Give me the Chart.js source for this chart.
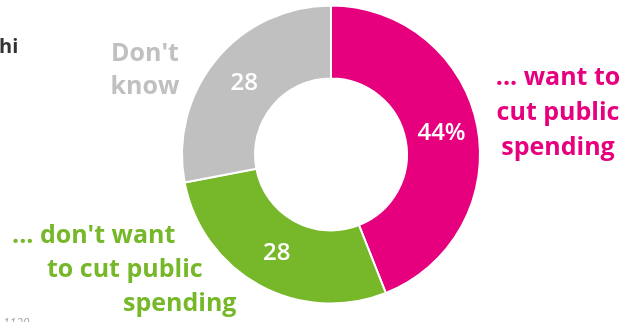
<!DOCTYPE html>
<html>
<head>
<meta charset="utf-8">
<script src="https://cdn.jsdelivr.net/npm/chart.js@4/dist/chart.umd.min.js"></script>
<style>
  html, body { margin: 0; padding: 0; background: #fff; overflow: hidden; }
</style>
</head>
<body>
<canvas id="donut" width="623" height="322"></canvas>
<script>
// Share of answers, clockwise from 12 o'clock
const categories = ['... want to cut public spending', "... don't want to cut public spending", "Don't know"];
const values = [44, 28, 28];
const sliceLabels = ['44%', '28', '28'];
const colors = ['#e6007e', '#76b82a', '#c0c0c0'];

// Outside captions, one entry per line
const captionWant = ['... want to', 'cut public', 'spending'];
const captionDont = ["... don't want", 'to cut public', 'spending'];
const captionUnknown = ["Don't", 'know'];

const FONT = '"Open Sans", "DejaVu Sans", sans-serif';

const captionPlugin = {
    id: 'captions',
    afterDatasetsDraw(chart) {
        const ctx = chart.ctx;
        const arcs = chart.getDatasetMeta(0).data;

        // value labels in the middle of each slice
        ctx.save();
        ctx.fillStyle = '#ffffff';
        ctx.font = '600 24px ' + FONT;
        ctx.textAlign = 'center';
        ctx.textBaseline = 'middle';
        arcs.forEach((arc, i) => {
            const p = arc.tooltipPosition();
            ctx.fillText(sliceLabels[i], p.x, p.y);
        });
        ctx.restore();

        ctx.save();
        ctx.font = '700 25px ' + FONT;
        ctx.textBaseline = 'alphabetic';

        ctx.fillStyle = colors[0];
        ctx.textAlign = 'center';
        captionWant.forEach((t, i) => ctx.fillText(t, 558, 85 + i * 35));

        ctx.fillStyle = colors[2];
        captionUnknown.forEach((t, i) => ctx.fillText(t, 145, 61 + i * 33));

        ctx.fillStyle = colors[1];
        ctx.textAlign = 'left';
        const greenX = [12, 47, 123];
        captionDont.forEach((t, i) => ctx.fillText(t, greenX[i], 243 + i * 34));

        // cut-off bits of surrounding text
        ctx.fillStyle = '#333333';
        ctx.font = '700 20px ' + FONT;
        ctx.fillText('hi', -1, 53);
        ctx.fillStyle = '#aaaaaa';
        ctx.font = 'italic 12px ' + FONT;
        ctx.fillText('1120', 3, 327);
        ctx.restore();
    }
};

new Chart(document.getElementById('donut'), {
    type: 'doughnut',
    data: {
        labels: categories,
        datasets: [{
            data: values,
            backgroundColor: colors,
            borderColor: '#ffffff',
            borderWidth: 2,
            hoverOffset: 0
        }]
    },
    options: {
        responsive: false,
        animation: false,
        cutout: '51%',
        rotation: 0,
        layout: { padding: { top: 4, bottom: 17, left: 181, right: 142 } },
        plugins: {
            legend: { display: false },
            tooltip: { enabled: false }
        }
    },
    plugins: [captionPlugin]
});
</script>
</body>
</html>
